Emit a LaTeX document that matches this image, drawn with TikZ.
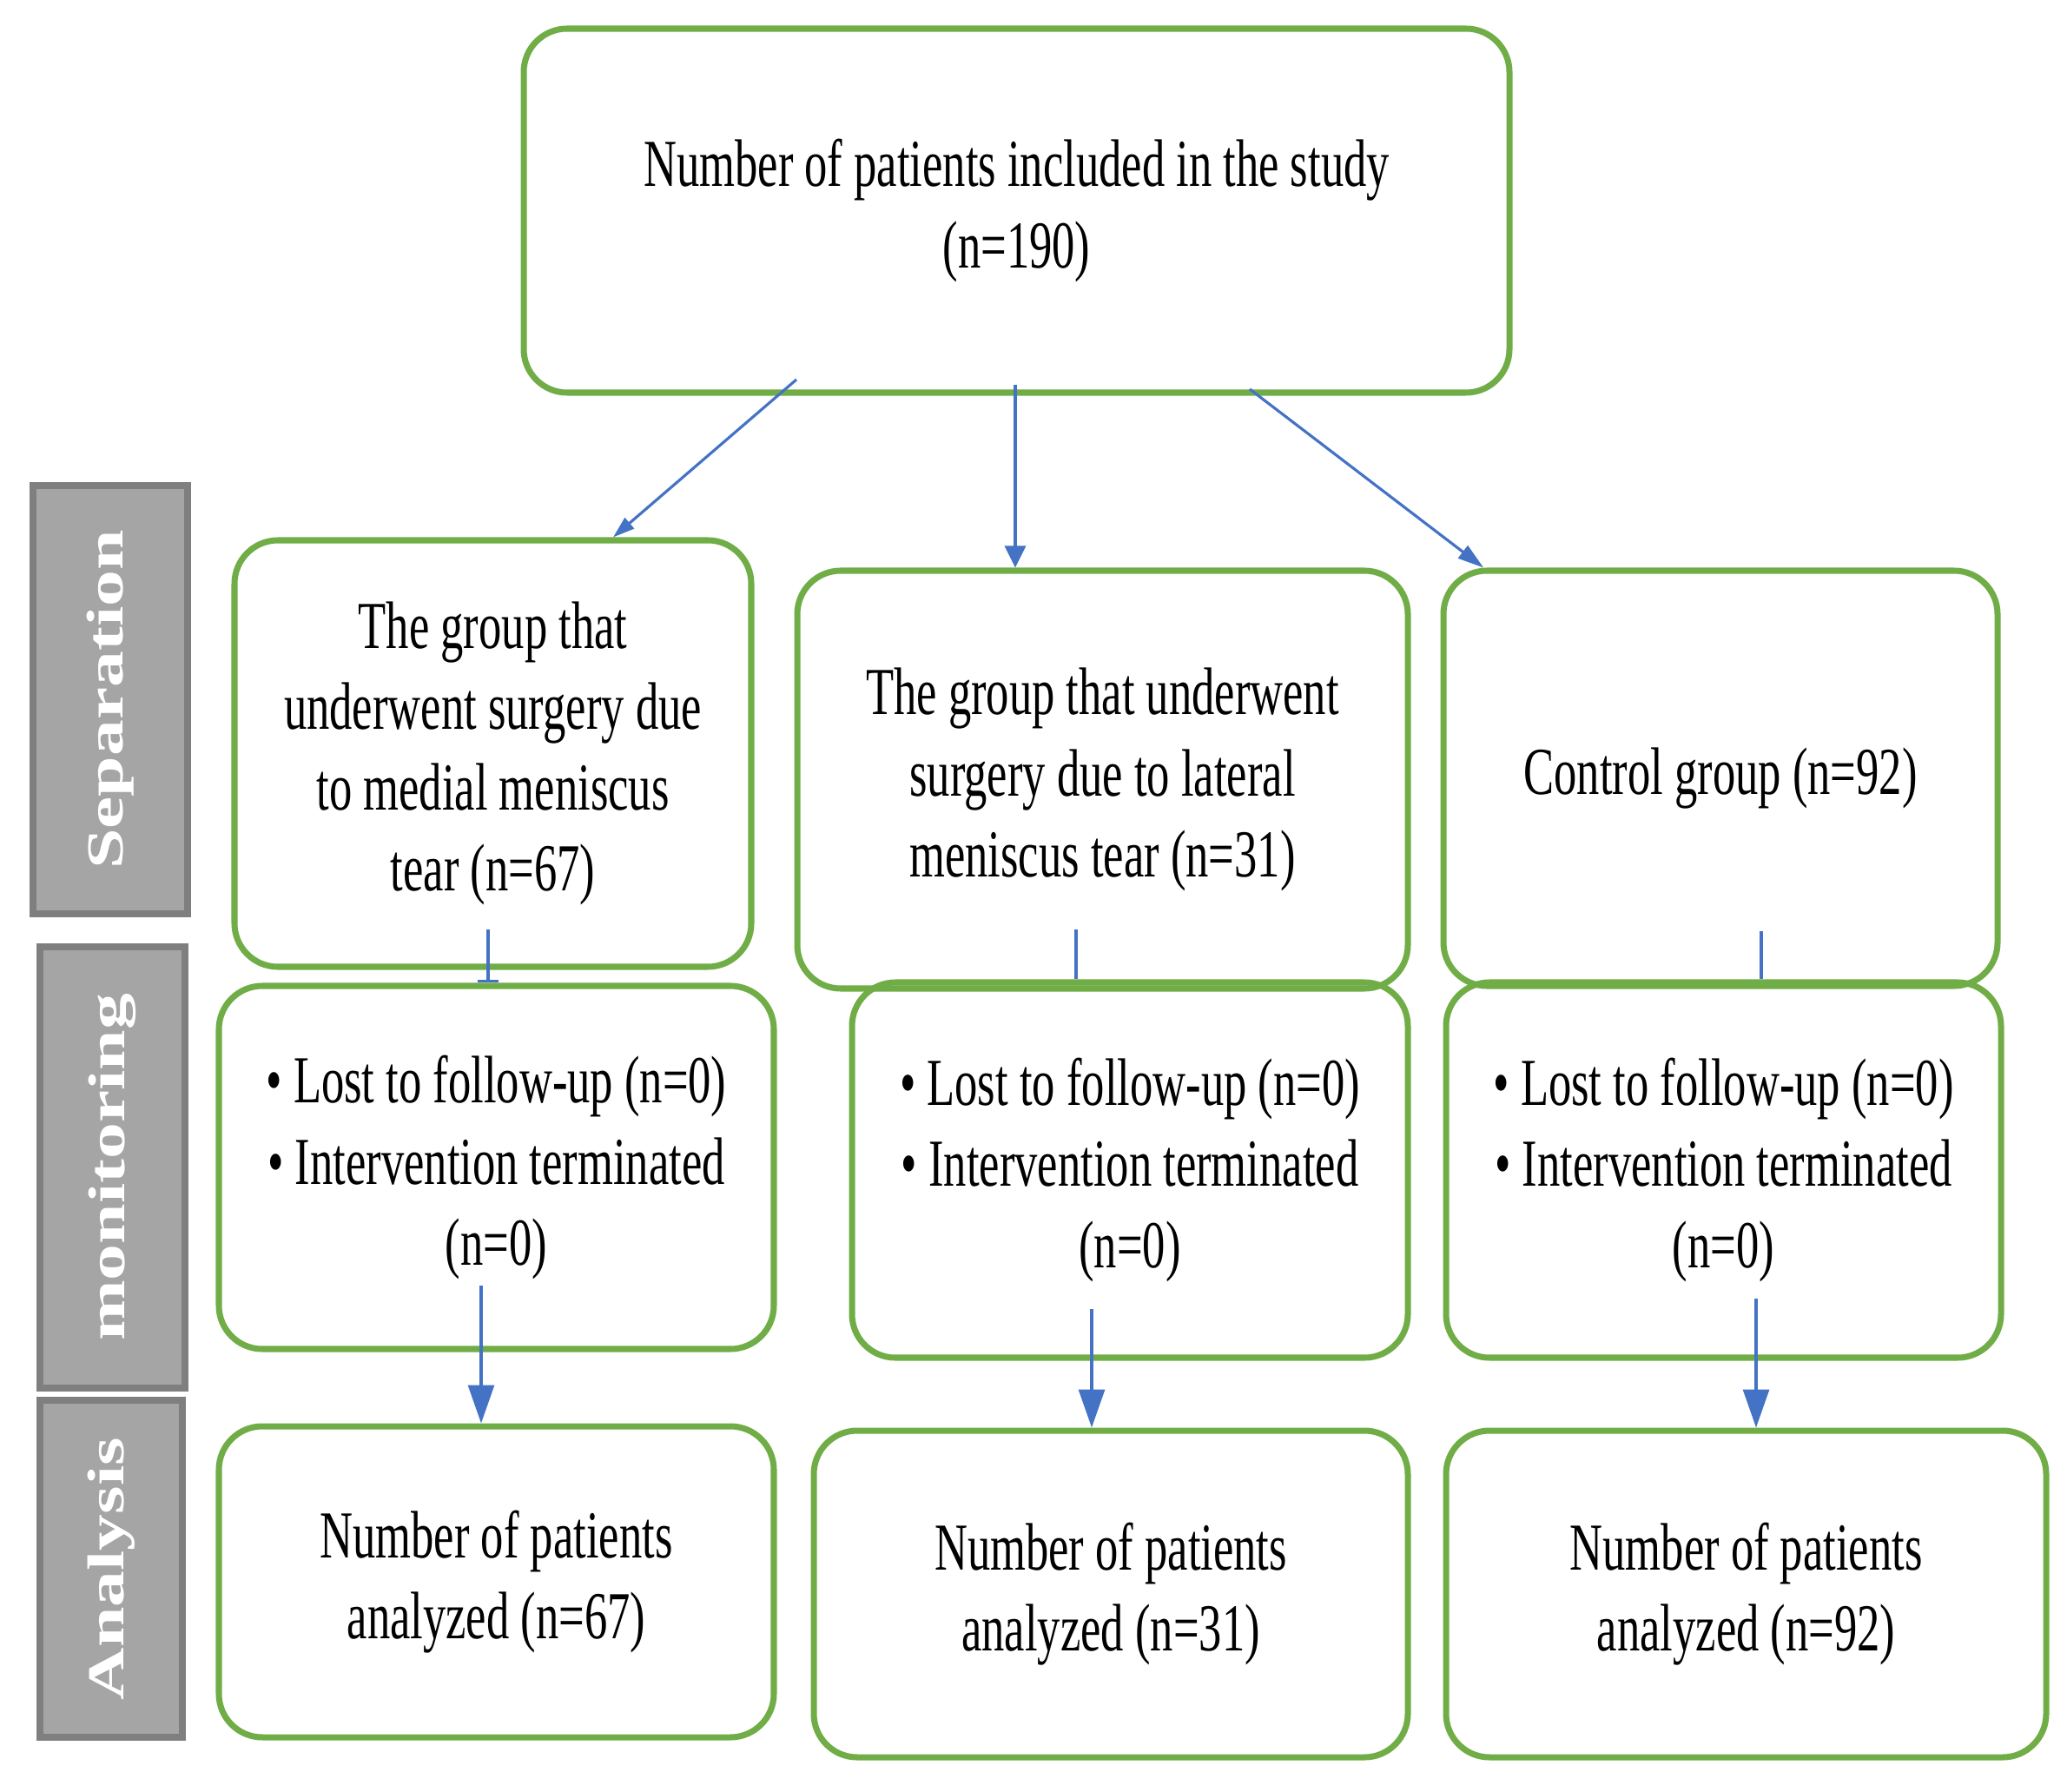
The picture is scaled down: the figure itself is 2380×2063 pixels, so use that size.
\documentclass[tikz,border=0pt]{standalone}
\usepackage{fontspec}
\setmainfont{Liberation Serif}[FakeStretch=0.68]
\newfontfamily\sidefont{Liberation Serif}[FakeStretch=1.4]
\usepackage{tikz}
\usetikzlibrary{calc,arrows.meta}
\definecolor{boxgreen}{HTML}{70AD47}
\definecolor{arrowblue}{HTML}{4472C4}
\definecolor{sidegray}{HTML}{A5A5A5}
\definecolor{sideedge}{HTML}{7F7F7F}

\begin{document}
\begin{tikzpicture}[x=0.1mm,y=-0.1mm,
		box/.style={draw=boxgreen,line width=2pt,rounded corners=5mm,align=center,inner sep=0pt,font=\fontsize{22}{26.5}\selectfont},
		side/.style={draw=sideedge,fill=sidegray,line width=2.5pt,inner sep=0pt,text=white,font=\sidefont\bfseries\fontsize{17}{20}\selectfont},
		flow/.style={draw=arrowblue,line width=0.9pt,-{Triangle[length=4.4mm,width=3mm]}},
		link/.style={draw=arrowblue,line width=0.9pt}]
		\useasboundingbox (0,0) rectangle (2380,2063);
		
		%study
		\node[box,minimum width=113.5mm,minimum height=41.9mm] (top) at (1170.5,242.5) {Number of patients included in the study\\(n=190)};
		
		%phases
		\node[side,minimum width=17.8mm,minimum height=49.3mm] (sep) at (127,805.5) {\rotatebox{90}{Separation}};
		\node[side,minimum width=16.7mm,minimum height=50.8mm] (mon) at (129.5,1344) {\rotatebox{90}{monitoring}};
		\node[side,minimum width=16.4mm,minimum height=38.8mm] (ana) at (128,1806) {\rotatebox{90}{Analysis}};
		
		%groups
		\node[box,minimum width=59.5mm,minimum height=49.1mm] (a1) at (567.5,867.5) {The group that\\underwent surgery due\\to medial meniscus\\tear (n=67)};
		\node[box,minimum width=70.3mm,minimum height=48.1mm] (b1) at (1269.5,897.5) {The group that underwent\\surgery due to lateral\\meniscus tear (n=31)};
		\node[box,minimum width=63.8mm,minimum height=47.8mm] (c1) at (1981,896) {Control group (n=92)};
		
		%follow-up
		\node[box,minimum width=63.9mm,minimum height=41.8mm] (a2) at (571.5,1344) {\textbullet\ Lost to follow-up (n=0)\\\textbullet\ Intervention terminated\\(n=0)};
		\node[box,minimum width=64mm,minimum height=43.2mm] (b2) at (1301,1347) {\textbullet\ Lost to follow-up (n=0)\\\textbullet\ Intervention terminated\\(n=0)};
		\node[box,minimum width=63.9mm,minimum height=43.2mm] (c2) at (1984.5,1347) {\textbullet\ Lost to follow-up (n=0)\\\textbullet\ Intervention terminated\\(n=0)};
		
		%analysis
		\node[box,minimum width=63.9mm,minimum height=35.8mm] (a3) at (571.5,1821) {Number of patients\\analyzed (n=67)};
		\node[box,minimum width=68.4mm,minimum height=37.6mm] (b3) at (1279,1835) {Number of patients\\analyzed (n=31)};
		\node[box,minimum width=69.1mm,minimum height=37.6mm] (c3) at (2010.5,1835) {Number of patients\\analyzed (n=92)};
		
		%arrow starts
		\coordinate (t1) at (917,437);
		\coordinate (t2) at (1169,443);
		\coordinate (t3) at (1439,448);
		\coordinate (d1) at (562,1070);
		\coordinate (d2) at (1239,1070);
		\coordinate (d3) at (2028,1072);
		\coordinate (e1) at (554,1480);
		\coordinate (e2) at (1257,1507);
		\coordinate (e3) at (2022,1495);
		
		%top arrows
		\draw[flow,-{Triangle[length=2.5mm,width=1.6mm]}] (t1) -- ($(a1.north west)!0.73!(a1.north east)$);
		\draw[flow,-{Triangle[length=2.5mm,width=2.4mm]}] (t2) -- (t2 |- b1.north);
		\draw[flow,-{Triangle[length=3mm,width=1.8mm]}] (t3) -- ($(c1.north west)!0.077!(c1.north east)$);
		
		%down to monitoring
		\draw[link,-{Bar[width=2.4mm]}] (d1) -- (d1 |- a2.north);
		\foreach \s/\t in {d2/b2,d3/c2}{
			\draw[link] (\s) -- (\s |- \t.north);
		}
		
		%down to analysis
		\foreach \s/\t in {e1/a3,e2/b3,e3/c3}{
			\draw[flow] (\s) -- (\s |- \t.north);
		}
		
\end{tikzpicture}
\end{document}
